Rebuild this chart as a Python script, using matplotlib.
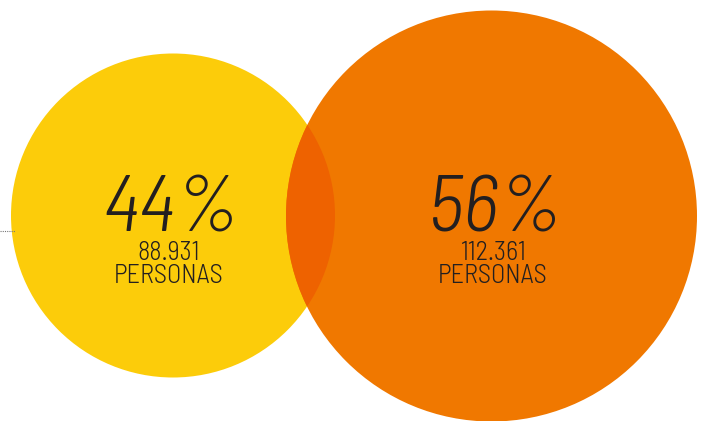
import matplotlib.pyplot as plt
from matplotlib.patches import Circle

W, H = 703, 421

# data
labels = ["44%", "56%"]
counts = ["88.931", "112.361"]
unit = "PERSONAS"

fam = ["Barlow Semi Condensed", "Barlow Condensed", "DejaVu Sans"]

fig = plt.figure(figsize=(W / 100, H / 100), dpi=100)
ax = fig.add_axes([0, 0, 1, 1])
ax.set_xlim(0, W)
ax.set_ylim(H, 0)
ax.set_aspect("equal")
ax.axis("off")

centers = [(173, 215.5), (491.5, 216)]
radii = [162, 205.5]
cols = ["#FCCC0A", "#F07800"]

c1 = Circle(centers[0], radii[0], color=cols[0], lw=0)
c2 = Circle(centers[1], radii[1], color=cols[1], lw=0)
ax.add_patch(c1)
ax.add_patch(c2)
# overlap of the two circles
ov = Circle(centers[0], radii[0], color="#EE6200", lw=0)
ax.add_patch(ov)
ov.set_clip_path(c2)

ax.plot([0, 15], [231, 231], color="#777777", lw=0.8, ls=(0, (1, 1)))

txt_x = [171, 495]
for i in range(2):
    ax.text(txt_x[i], 232, labels[i], ha="center", va="baseline", fontsize=58,
            style="italic", weight=300, family=fam, color="#231F20")
    ax.text(txt_x[i] - 2, 260, counts[i], ha="center", va="baseline", fontsize=19,
            weight=300, family=fam, color="#231F20")
    ax.text(txt_x[i] - 2, 283, unit, ha="center", va="baseline", fontsize=19,
            weight=300, family=fam, color="#231F20")

fig.savefig("out.png", dpi=100)
